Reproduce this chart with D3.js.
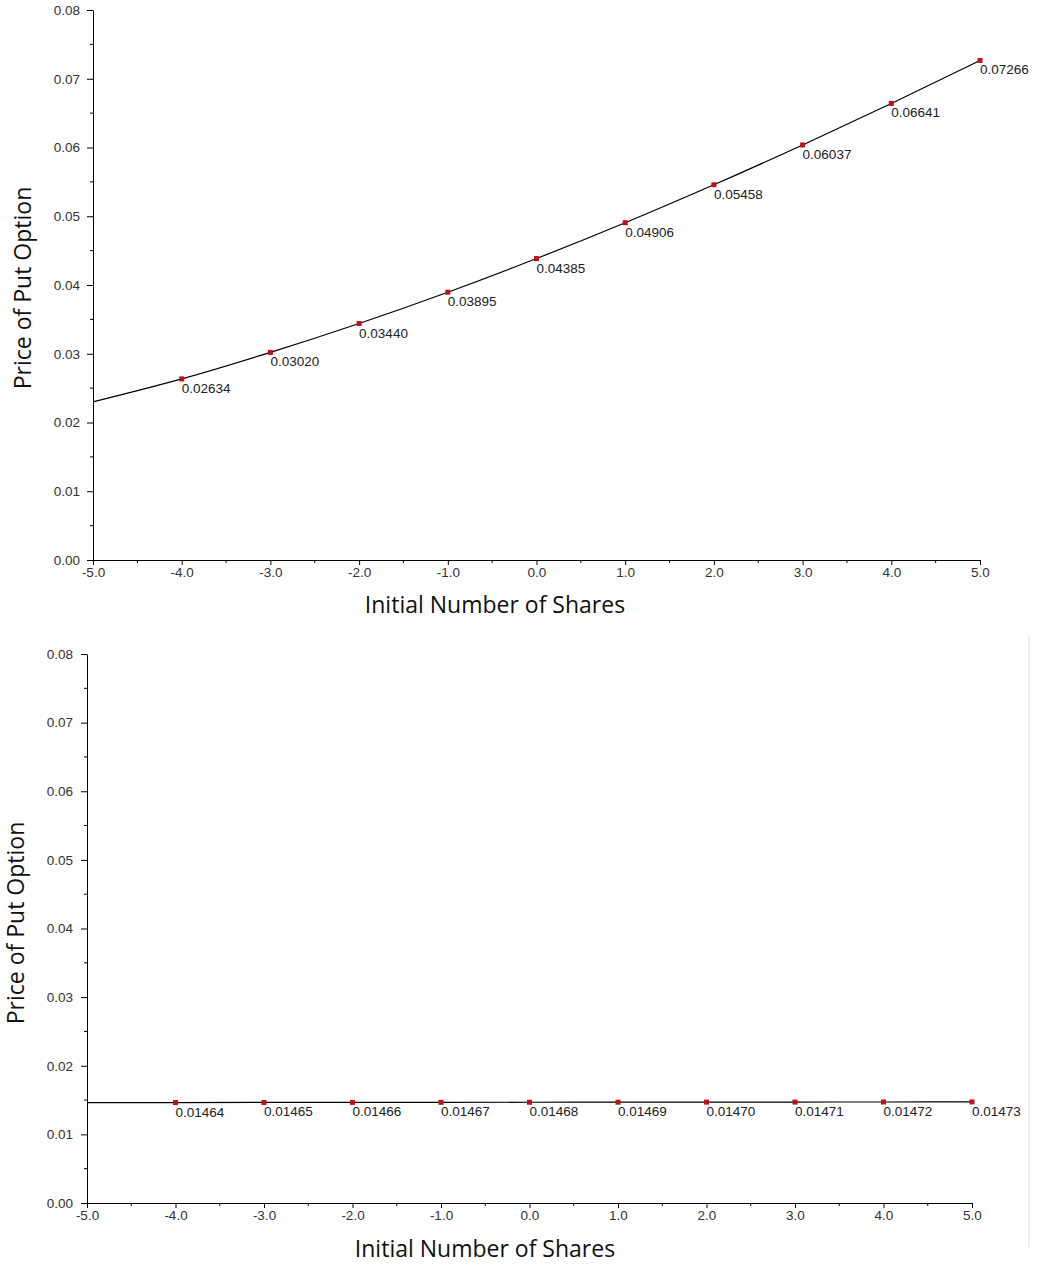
<!DOCTYPE html>
<html>
<head>
<meta charset="utf-8">
<script src="https://cdn.jsdelivr.net/npm/d3@7"></script>
<style>
  html, body { margin: 0; padding: 0; background: #fff; }
  svg { display: block; }
  .tick text { font-family: "Liberation Sans", Arial, sans-serif; font-size: 13.5px; fill: #333; }
  .axis path, .axis line { stroke: #000; }
  .pt-label { font-family: "Liberation Sans", Arial, sans-serif; font-size: 13.5px; fill: #222; }
  .axis-title { font-family: "Open Sans", "Noto Sans", sans-serif; font-size: 23px; fill: #111; }
</style>
</head>
<body>
<svg id="chart" width="1037" height="1265"></svg>
<script>
// x values of labelled points
const shares = [-4, -3, -2, -1, 0, 1, 2, 3, 4, 5];
// top panel prices
const topPrices = [0.02634, 0.03020, 0.03440, 0.03895, 0.04385, 0.04906, 0.05458, 0.06037, 0.06641, 0.07266];
const topLabels = ['0.02634', '0.03020', '0.03440', '0.03895', '0.04385', '0.04906', '0.05458', '0.06037', '0.06641', '0.07266'];
// bottom panel prices
const bottomPrices = [0.01464, 0.01465, 0.01466, 0.01467, 0.01468, 0.01469, 0.01470, 0.01471, 0.01472, 0.01473];
const bottomLabels = ['0.01464', '0.01465', '0.01466', '0.01467', '0.01468', '0.01469', '0.01470', '0.01471', '0.01472', '0.01473'];
// curve value at the left edge (x = -5)
const topStartPrice = 0.02300;
const bottomStartPrice = 0.01463;
const xTicks = [-5, -4, -3, -2, -1, 0, 1, 2, 3, 4, 5];
const yTicks = [0, 0.01, 0.02, 0.03, 0.04, 0.05, 0.06, 0.07, 0.08];

const svg = d3.select('#chart');
const fmtX = d => d3.format('.1f')(d).replace('\u2212', '-');
const fmtY = d => d3.format('.2f')(d);

function drawPanel(cfg, prices, labels, startPrice) {
  const g = svg.append('g');
  const x = d3.scaleLinear().domain([-5, 5]).range([cfg.left, cfg.right]);
  const y = d3.scaleLinear().domain([0, 0.08]).range([cfg.bottom, cfg.top]);

  // minor ticks
  g.append('g').selectAll('line')
    .data(d3.range(-4.5, 5, 1))
    .join('line')
      .attr('x1', d => x(d)).attr('x2', d => x(d))
      .attr('y1', cfg.bottom).attr('y2', cfg.bottom + 3)
      .attr('stroke', '#000');
  g.append('g').selectAll('line')
    .data(d3.range(0.005, 0.08, 0.01))
    .join('line')
      .attr('x1', cfg.left - 3).attr('x2', cfg.left)
      .attr('y1', d => y(d)).attr('y2', d => y(d))
      .attr('stroke', '#000');

  g.append('g')
    .attr('class', 'axis')
    .attr('transform', `translate(0,${cfg.bottom})`)
    .call(d3.axisBottom(x).tickValues(xTicks).tickFormat(fmtX).tickSize(5).tickSizeOuter(0).tickPadding(2));

  g.append('g')
    .attr('class', 'axis')
    .attr('transform', `translate(${cfg.left},0)`)
    .call(d3.axisLeft(y).tickValues(yTicks).tickFormat(fmtY).tickSize(6).tickSizeOuter(0).tickPadding(cfg.yPad));

  const lineData = [{ s: -5, p: startPrice }].concat(shares.map((s, i) => ({ s, p: prices[i] })));
  g.append('path')
    .datum(lineData)
    .attr('fill', 'none')
    .attr('stroke', '#000')
    .attr('stroke-width', 1.2)
    .attr('d', d3.line().x(d => x(d.s)).y(d => y(d.p)).curve(d3.curveMonotoneX));

  g.append('g').selectAll('rect')
    .data(shares)
    .join('rect')
      .attr('x', d => x(d) - 2.5)
      .attr('y', (d, i) => y(prices[i]) - 2.5)
      .attr('width', 5).attr('height', 5)
      .attr('fill', '#c0101a');

  g.append('g').selectAll('text')
    .data(shares)
    .join('text')
      .attr('class', 'pt-label')
      .attr('x', d => x(d))
      .attr('y', (d, i) => y(prices[i]) + 14)
      .text((d, i) => labels[i]);

  g.append('text')
    .attr('class', 'axis-title')
    .attr('x', cfg.xTitleX)
    .attr('y', cfg.bottom + cfg.xTitleDy)
    .attr('text-anchor', 'middle')
    .text('Initial Number of Shares');

  g.append('text')
    .attr('class', 'axis-title')
    .attr('transform', `translate(${cfg.yTitleX},${cfg.yTitleY}) rotate(-90)`)
    .attr('text-anchor', 'middle')
    .text('Price of Put Option');
}

drawPanel({ left: 93, right: 980, top: 10, bottom: 560, yPad: 7,
            xTitleX: 495, xTitleDy: 53, yTitleX: 31, yTitleY: 288 },
  topPrices, topLabels, topStartPrice);
drawPanel({ left: 87, right: 972, top: 654, bottom: 1203, yPad: 8,
            xTitleX: 485, xTitleDy: 54, yTitleX: 24, yTitleY: 923 },
  bottomPrices, bottomLabels, bottomStartPrice);

// faint frame edge on the right of the lower panel
svg.append('line')
  .attr('x1', 1029).attr('x2', 1029)
  .attr('y1', 636).attr('y2', 1247)
  .attr('stroke', '#eeeeee').attr('stroke-width', 2);
</script>
</body>
</html>
